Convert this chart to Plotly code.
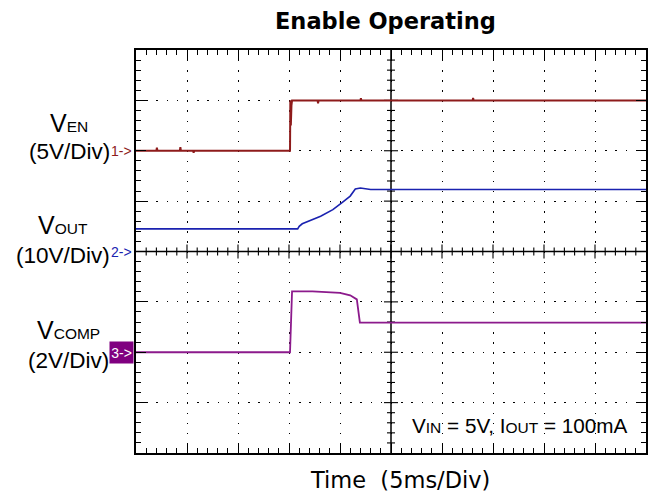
import numpy as np
import plotly.graph_objects as go

# ---------------- data (time in ms, amplitude in screen divisions, centre = 0) ----------------
en_t = [0, 2.0, 2.05, 2.1, 4.3, 4.35, 4.4, 5.6, 5.65, 5.7, 15.1, 15.13, 15.18, 15.24, 15.3,
        17.8, 17.85, 17.9, 22.0, 22.05, 22.1, 33.0, 33.05, 33.1, 50]
en_v = [2.0, 2.0, 2.06, 2.0, 2.0, 2.07, 2.0, 2.0, 1.96, 2.0, 2.0, 3.0, 2.5, 2.9, 3.0,
        3.0, 2.94, 3.0, 3.0, 3.04, 3.0, 3.0, 3.05, 3.0, 3.0]

vout_t = [0, 15.85, 16.0, 16.3, 18.1, 19.3, 20.2, 21.0, 21.5, 22.0, 23.0, 50]
vout_v = [0.45, 0.45, 0.50, 0.55, 0.70, 0.83, 0.97, 1.10, 1.24, 1.26, 1.23, 1.23]

vcomp_t = [0, 15.1, 15.3, 17.3, 20.0, 21.0, 21.65, 21.8, 21.95, 50]
vcomp_v = [-2.0, -2.0, -0.79, -0.79, -0.82, -0.87, -0.95, -1.2, -1.41, -1.41]

# channel ground markers (divisions)
ch_levels = [2.0, 0.0, -2.0]
ch_marks = ["1->", "2->", "3->"]

EN_COL = "#8e1b1b"
VOUT_COL = "#1a22b0"
VCOMP_COL = "#8c1a8c"

W, H = 663, 499
L, R, T, B = 136, 17, 50, 46
PW = W - L - R
PH = H - T - B


def px_x(px):
    return (px - L) / PW


def px_y(py):
    return (H - B - py) / PH


fig = go.Figure()
fig.add_trace(go.Scatter(x=en_t, y=en_v, mode="lines", line=dict(color=EN_COL, width=2), hoverinfo="skip"))
fig.add_trace(go.Scatter(x=vout_t, y=vout_v, mode="lines", line=dict(color=VOUT_COL, width=1.6), hoverinfo="skip"))
fig.add_trace(go.Scatter(x=vcomp_t, y=vcomp_v, mode="lines", line=dict(color=VCOMP_COL, width=1.8), hoverinfo="skip"))

FONT = "Liberation Sans, Arial, sans-serif"
WIDE = "DejaVu Sans, Verdana, sans-serif"

fig.update_layout(
    width=W, height=H,
    margin=dict(l=L, r=R, t=T, b=B),
    plot_bgcolor="white", paper_bgcolor="white",
    showlegend=False,
    font=dict(family=FONT, color="black"),
)
fig.update_xaxes(
    range=[0, 50], showline=True, linecolor="black", linewidth=1.5, mirror="ticks",
    ticks="inside", ticklen=10, tickwidth=1.2, tickcolor="black", dtick=5, tick0=0,
    showticklabels=False, showgrid=True, gridcolor="black", gridwidth=1.4,
    griddash="1.4px,8.675px", zeroline=False,
    minor=dict(ticks="inside", ticklen=5, dtick=1, tick0=0, tickcolor="black", tickwidth=1.1, showgrid=False),
)
fig.update_yaxes(
    range=[-4, 4], showline=True, linecolor="black", linewidth=1.5, mirror="ticks",
    ticks="inside", ticklen=10, tickwidth=1.2, tickcolor="black", dtick=1, tick0=0,
    showticklabels=False, showgrid=True, gridcolor="black", gridwidth=1.4,
    griddash="1.4px,8.8px", zeroline=False,
    minor=dict(ticks="inside", ticklen=5, dtick=0.2, tick0=0, tickcolor="black", tickwidth=1.1, showgrid=False),
)

# centre cross with crossing ticks
fig.add_shape(type="line", x0=25, x1=25, y0=-4, y1=4, line=dict(color="black", width=1.5), layer="below")
fig.add_shape(type="line", x0=0, x1=50, y0=0, y1=0, line=dict(color="black", width=1.5), layer="below")
for t in np.arange(1, 50, 1.0):
    ln = 7 if abs(t % 5) < 1e-6 else 4
    fig.add_shape(type="line", xref="x", yref="y", x0=t, x1=t, ysizemode="pixel", yanchor=0,
                  y0=-ln, y1=ln, line=dict(color="black", width=1.1), layer="below")
for v in np.arange(-3.8, 4.0, 0.2):
    if abs(v) < 1e-6:
        continue
    ln = 7 if abs(v - round(v)) < 1e-6 else 4
    fig.add_shape(type="line", xref="x", yref="y", y0=v, y1=v, xsizemode="pixel", xanchor=25,
                  x0=-ln, x1=ln, line=dict(color="black", width=1.1), layer="below")

ann = []
# title and x label
ann.append(dict(text="<b>Enable Operating</b>", x=px_x(385.5), y=px_y(21), xref="paper", yref="paper",
                showarrow=False, xanchor="center", yanchor="middle", font=dict(family=WIDE, size=22.5)))
ann.append(dict(text="Time  (5ms/Div)", x=px_x(399.7), y=px_y(480), xref="paper", yref="paper",
                showarrow=False, xanchor="center", yanchor="middle", font=dict(family=WIDE, size=22.5)))

SUB = '<span style="font-size:15.5px">%s</span>'
labels = [("V" + SUB % "EN", "(5V/Div)", 69, 123, 152),
          ("V" + SUB % "OUT", "(10V/Div)", 62.5, 225, 256),
          ("V" + SUB % "COMP", "(2V/Div)", 68.5, 330, 360)]
for top, bot, cx, y1, y2 in labels:
    ann.append(dict(text=top, x=px_x(cx), y=px_y(y1), xref="paper", yref="paper", showarrow=False,
                    xanchor="center", yanchor="middle", font=dict(size=25)))
    ann.append(dict(text=bot, x=px_x(cx), y=px_y(y2), xref="paper", yref="paper", showarrow=False,
                    xanchor="center", yanchor="middle", font=dict(size=22.5)))

# channel markers
ann.append(dict(text=ch_marks[0], x=px_x(134), y=ch_levels[0], xref="paper", yref="y", showarrow=False,
                xanchor="right", yanchor="middle", font=dict(size=14, color=EN_COL)))
ann.append(dict(text=ch_marks[1], x=px_x(134), y=ch_levels[1], xref="paper", yref="y", showarrow=False,
                xanchor="right", yanchor="middle", font=dict(size=14, color=VOUT_COL)))
ann.append(dict(text=ch_marks[2], x=px_x(134), y=ch_levels[2], xref="paper", yref="y", showarrow=False,
                xanchor="right", yanchor="middle", font=dict(size=14, color="white"),
                bgcolor="#800080", width=21, height=19, borderpad=1))

# conditions
ann.append(dict(text="V" + '<span style="font-size:15.5px">IN</span>' + " = 5V, I" +
                '<span style="font-size:15.5px">OUT</span>' + " = 100mA",
                x=px_x(520), y=px_y(425), xref="paper", yref="paper", showarrow=False,
                xanchor="center", yanchor="middle", font=dict(size=20.7)))

fig.update_layout(annotations=ann)
fig.write_html("out.html", config={"displayModeBar": False},
               post_script="document.body.style.margin='0px';document.body.style.overflow='hidden';")
